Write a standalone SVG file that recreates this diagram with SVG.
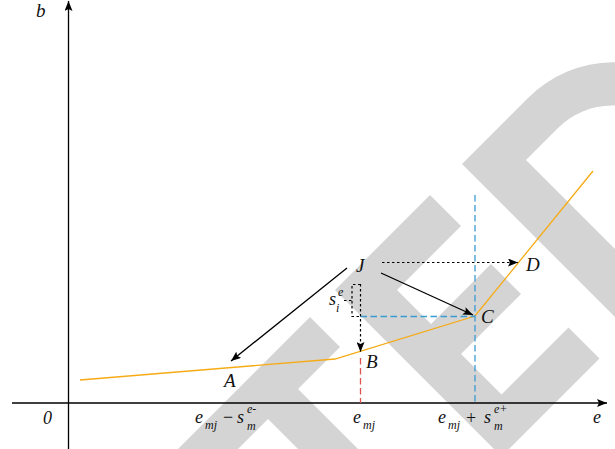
<svg xmlns="http://www.w3.org/2000/svg" width="615" height="449" viewBox="0 0 615 449">
<style>
.wm{fill:#d4d4d4;stroke:none}
.ax{stroke:#000;stroke-width:1.3;fill:none}
.solid{stroke:#000;stroke-width:1.3;fill:none}
.dot{stroke:#000;stroke-width:1.2;fill:none;stroke-dasharray:2.5 2.5}
.blue{stroke:#3b9bd1;stroke-width:1.3;fill:none;stroke-dasharray:6.5 3.5}
.red{stroke:#e0524f;stroke-width:1.3;fill:none;stroke-dasharray:6.5 3.5}
.curve{stroke:#f6ab15;stroke-width:1.3;fill:none}
text{font-family:"Liberation Serif","DejaVu Serif",serif;font-style:italic;fill:#111}
.lb{font-size:19px}
.m{font-size:18px}
.s{font-size:12px}
.up{font-style:normal}
</style>
<defs>
<marker id="ah" viewBox="0 0 10 8" refX="10" refY="4" markerWidth="10" markerHeight="8" markerUnits="userSpaceOnUse" orient="auto">
<path d="M0,0 L10,4 L0,8 L2,4 Z" fill="#000"/>
</marker>
</defs>
<rect width="615" height="449" fill="#fff"/>
<g id="watermark" transform="matrix(0.5,-0.5,0.5,0.5,0,0)">
<path class="wm" d="M-280,627 H-7 V687 H-91 V958 H-151 V687 H-280 Z"/>
<path class="wm" d="M45,625 H235 V687 H107 V755 H227 V815 H107 V896 H241 V958 H45 Z"/>
<path class="wm" fill-rule="evenodd" d="M298,626 H430 A170,166 0 0 1 430,958 H298 Z M366,686 V898 H430 A108,106 0 0 0 430,686 Z"/>
</g>
<g id="axes">
<line class="ax" x1="12" y1="403" x2="607" y2="403" marker-end="url(#ah)"/>
<line class="ax" x1="68.5" y1="449" x2="68.5" y2="1" marker-end="url(#ah)"/>
</g>
<g id="guides">
<polyline class="curve" points="80,380 335,359 475,316 593,171"/>
<line class="blue" x1="475" y1="195" x2="475" y2="403"/>
<line class="blue" x1="360.5" y1="316.5" x2="475" y2="316.5"/>
<line class="red" x1="360.5" y1="358" x2="360.5" y2="403"/>
<polyline class="dot" points="360.5,284.5 352,284.5 352,316.5 360.5,316.5"/>
<line class="dot" x1="344" y1="300.5" x2="352" y2="300.5"/>
</g>
<g id="connectors">
<line class="solid" x1="347" y1="268" x2="231" y2="361" marker-end="url(#ah)"/>
<line class="solid" x1="381" y1="273" x2="473" y2="315" marker-end="url(#ah)"/>
<line class="dot" x1="382" y1="262.5" x2="518" y2="262.5" marker-end="url(#ah)"/>
<line class="dot" x1="360.5" y1="284" x2="360.5" y2="352" marker-end="url(#ah)"/>
</g>
<g id="node-J"><text class="lb" x="356" y="272">J</text></g>
<g id="node-A"><text class="lb" x="224" y="387">A</text></g>
<g id="node-B"><text class="lb" x="366" y="368">B</text></g>
<g id="node-C"><text class="lb" x="481" y="323">C</text></g>
<g id="node-D"><text class="lb" x="526" y="271">D</text></g>
<g id="label-sie">
<text class="m" x="329" y="305">s</text>
<text class="s" x="338" y="296">e</text>
<text class="s" x="336" y="312">i</text>
</g>
<g id="axis-labels">
<text class="lb" x="36" y="17">b</text>
<text class="m" x="43" y="424">0</text>
<text class="m" x="593" y="423">e</text>
<text class="m" x="195" y="423">e</text>
<text class="s" x="205" y="429">mj</text>
<text class="m up" x="223" y="423">−</text>
<text class="m" x="237" y="423">s</text>
<text class="s" x="247" y="413">e-</text>
<text class="s" x="247" y="430">m</text>
<text class="m" x="353" y="423">e</text>
<text class="s" x="363" y="429">mj</text>
<text class="m" x="438" y="423">e</text>
<text class="s" x="448" y="429">mj</text>
<text class="m up" x="466" y="424">+</text>
<text class="m" x="484" y="423">s</text>
<text class="s" x="494" y="413">e+</text>
<text class="s" x="494" y="430">m</text>
</g>
</svg>
